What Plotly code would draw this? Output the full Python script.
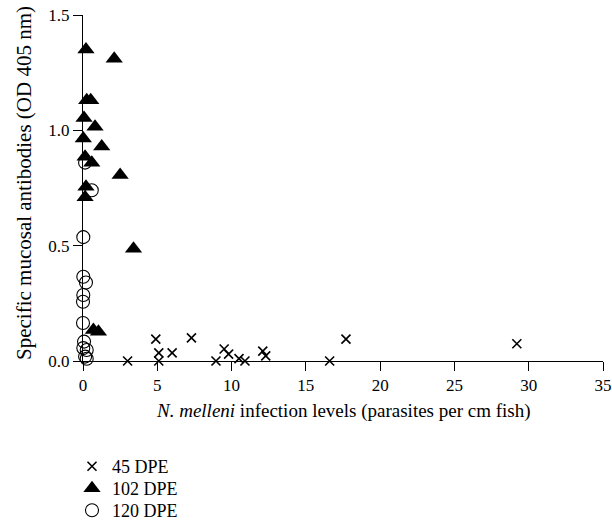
import plotly.graph_objects as go

# 45 DPE
x45 = [3.0, 4.9, 5.1, 5.1, 6.0, 7.3, 8.95, 9.5, 9.8, 10.5, 10.9, 12.1, 12.3, 16.6, 17.7, 29.2]
y45 = [0.0, 0.095, 0.035, 0.0, 0.035, 0.10, 0.0, 0.052, 0.03, 0.01, 0.0, 0.043, 0.022, 0.0, 0.095, 0.075]

# 102 DPE
x102 = [0.2, 2.1, 0.25, 0.52, 0.07, 0.81, 0.02, 1.26, 0.14, 0.59, 2.5, 0.2, 0.14, 3.4, 0.7, 1.04]
y102 = [1.35, 1.31, 1.13, 1.13, 1.053, 1.016, 0.965, 0.93, 0.885, 0.86, 0.806, 0.755, 0.71, 0.487, 0.134, 0.127]

# 120 DPE
x120 = [0.14, 0.59, 0.02, 0.02, 0.2, 0.02, 0.0, 0.0, 0.07, 0.02, 0.25, 0.14, 0.25]
y120 = [0.86, 0.74, 0.537, 0.365, 0.34, 0.286, 0.257, 0.165, 0.084, 0.056, 0.048, 0.019, 0.01]

xticks = [0, 5, 10, 15, 20, 25, 30, 35]
yticks = [0.0, 0.5, 1.0, 1.5]
yticklabels = ["0.0", "0.5", "1.0", "1.5"]

x_title = "<i>N. melleni</i> infection levels (parasites per cm fish)"
y_title = "Specific mucosal antibodies (OD 405 nm)"

FONT = "Liberation Serif"
W, H = 612, 525
L, R, T, B = 83, 9, 15, 164

fig = go.Figure()
fig.add_trace(go.Scatter(
    x=x45, y=y45, mode="markers", name="45 DPE", cliponaxis=False, legend="legend",
    marker=dict(symbol="x-thin", size=9, line=dict(color="black", width=1.6), color="black")))
fig.add_trace(go.Scatter(
    x=x102, y=y102, mode="markers", name="102 DPE", cliponaxis=False, legend="legend2",
    marker=dict(symbol="triangle-up", size=15, color="black", line=dict(width=0))))
fig.add_trace(go.Scatter(
    x=x120, y=y120, mode="markers", name="120 DPE", cliponaxis=False, legend="legend3",
    marker=dict(symbol="circle-open", size=13, color="black", line=dict(color="black", width=1.1))))


def leg(top):
    return dict(
        xref="container", yref="container", x=72 / W, y=1 - top / H,
        xanchor="left", yanchor="top",
        font=dict(family=FONT, size=18, color="black"),
        bgcolor="rgba(0,0,0,0)", itemsizing="trace",
    )


fig.update_layout(
    width=W, height=H,
    margin=dict(l=L, r=R, t=T, b=B, autoexpand=False),
    plot_bgcolor="white", paper_bgcolor="white",
    font=dict(family=FONT, size=17, color="black"),
    showlegend=True,
    legend=leg(448), legend2=leg(470), legend3=leg(492),
    xaxis=dict(
        range=[0, 35], tickvals=xticks, showline=True, linecolor="black", linewidth=1,
        ticks="outside", ticklen=9, tickcolor="black", tickwidth=1, showgrid=False, zeroline=False,
        tickfont=dict(family=FONT, size=17),
    ),
    yaxis=dict(
        range=[0, 1.5], tickvals=yticks, ticktext=yticklabels, showline=True, linecolor="black", linewidth=1,
        ticks="outside", ticklen=9, tickcolor="black", tickwidth=1, showgrid=False, zeroline=False,
        tickfont=dict(family=FONT, size=17),
    ),
    annotations=[
        dict(text=x_title, xref="paper", yref="paper", x=0.5, y=-(411 - (H - B)) / (H - T - B),
             xanchor="center", yanchor="middle", showarrow=False, font=dict(family=FONT, size=19)),
        dict(text=y_title, xref="paper", yref="paper", x=-(L - 24) / (W - L - R), y=1 - (183 - T) / (H - T - B),
             xanchor="center", yanchor="middle", textangle=-90, showarrow=False, font=dict(family=FONT, size=21)),
    ],
)

fig.write_html("out.html", post_script="document.body.style.margin='0';",
               config={"displayModeBar": False})
